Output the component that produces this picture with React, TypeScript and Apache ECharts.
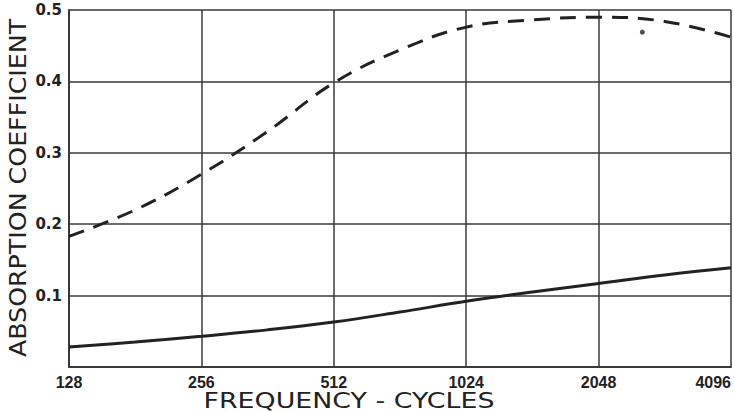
import React, { useEffect, useRef } from "react";
import * as echarts from "echarts";

const frequencies = [128, 181, 256, 362, 512, 724, 1024, 1448, 2048, 2896, 4096];
const dashedValues = [0.183, 0.22, 0.27, 0.33, 0.398, 0.444, 0.476, 0.486, 0.49, 0.484, 0.462];
const solidValues = [0.028, 0.035, 0.043, 0.052, 0.063, 0.077, 0.092, 0.105, 0.117, 0.129, 0.139];
const strayDot = [[2575, 0.469]];
const yTitle = "ABSORPTION COEFFICIENT";
const xTitle = "FREQUENCY - CYCLES";

export default function App() {
  const ref = useRef<HTMLDivElement>(null);
  useEffect(() => {
    if (!ref.current) return;
    const chart = echarts.init(ref.current, null, { renderer: "svg" });
    const lineColor = "#222";
    const gridColor = "#3a3a3a";
    chart.setOption({
      animation: false,
      backgroundColor: "#fff",
      grid: { left: 69, right: 2, top: 10, bottom: 45, containLabel: false },
      xAxis: {
        type: "log",
        logBase: 2,
        min: 128,
        max: 4096,
        axisLine: { show: true, lineStyle: { color: gridColor, width: 2 } },
        axisTick: { show: false },
        splitLine: { show: true, lineStyle: { color: gridColor, width: 1.5 } },
        axisLabel: {
          margin: 7,
          fontFamily: "Liberation Sans",
          fontWeight: "bold",
          fontSize: 16,
          color: "#222",
          alignMaxLabel: "right",
          formatter: (v: number) => String(Math.round(v)),
        },
      },
      yAxis: {
        type: "value",
        min: 0,
        max: 0.5,
        interval: 0.1,
        axisLine: { show: true, lineStyle: { color: gridColor, width: 2 } },
        axisTick: { show: false },
        splitLine: { show: true, lineStyle: { color: gridColor, width: 1.5 } },
        axisLabel: {
          margin: 7,
          fontFamily: "DejaVu Sans",
          fontWeight: "bold",
          fontSize: 15,
          color: "#222",
          showMinLabel: false,
          formatter: (v: number) => (v === 0 ? "" : v.toFixed(1)),
        },
      },
      graphic: [
        {
          type: "text",
          x: 18,
          y: 188,
          rotation: Math.PI / 2,
          scaleX: 1.1,
          style: {
            text: yTitle,
            fontFamily: "DejaVu Sans",
            fontSize: 23,
            fill: "#222",
            textAlign: "center",
            textVerticalAlign: "middle",
          },
        },
        {
          type: "text",
          x: 349,
          y: 400,
          scaleX: 1.22,
          style: {
            text: xTitle,
            fontFamily: "DejaVu Sans",
            fontSize: 22,
            fill: "#222",
            textAlign: "center",
            textVerticalAlign: "middle",
          },
        },
      ],
      series: [
        {
          type: "line",
          name: "dashed",
          data: frequencies.map((f, i) => [f, dashedValues[i]]),
          smooth: 0.4,
          showSymbol: false,
          lineStyle: { color: lineColor, width: 3, type: [16, 10] },
        },
        {
          type: "line",
          name: "solid",
          data: frequencies.map((f, i) => [f, solidValues[i]]),
          smooth: 0.4,
          showSymbol: false,
          lineStyle: { color: lineColor, width: 3 },
        },
        {
          type: "scatter",
          name: "dot",
          data: strayDot,
          symbolSize: 5,
          itemStyle: { color: lineColor },
        },
      ],
    });
    return () => chart.dispose();
  }, []);
  return (
    <div
      ref={ref}
      style={{ position: "fixed", left: 0, top: 0, width: 734, height: 412, background: "#fff" }}
    />
  );
}
